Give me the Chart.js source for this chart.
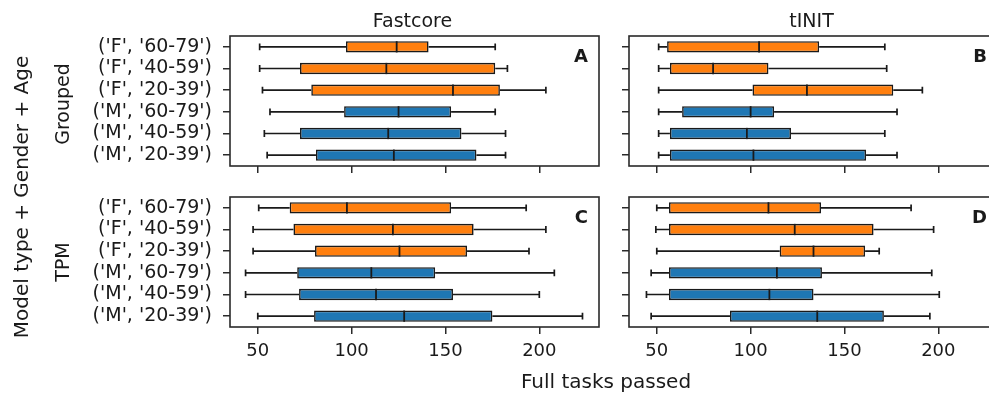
<!DOCTYPE html>
<html>
<head>
<meta charset="utf-8">
<script src="https://cdn.jsdelivr.net/npm/chart.js@4.4.1/dist/chart.umd.min.js"></script>
<style>
  html, body { margin: 0; padding: 0; background: #fff; overflow: hidden; }
  #wrap { position: relative; width: 989px; height: 397px; overflow: hidden; background: #fff; }
  #wrap canvas { position: absolute; left: 0; top: 0; }
</style>
</head>
<body>
<div id="wrap">
  <canvas id="chartA" width="1010" height="397"></canvas>
  <canvas id="chartB" width="1010" height="397"></canvas>
  <canvas id="chartC" width="1010" height="397"></canvas>
  <canvas id="chartD" width="1010" height="397"></canvas>
</div>
<script>
const groups = ["('F', '60-79')", "('F', '40-59')", "('F', '20-39')", "('M', '60-79')", "('M', '40-59')", "('M', '20-39')"];
const groupColors = ['#ff7f0e', '#ff7f0e', '#ff7f0e', '#1f77b4', '#1f77b4', '#1f77b4'];
const xTicks = [50, 100, 150, 200];

// each row: [whisker low, Q1, median, Q3, whisker high]
const fastcoreGrouped = [
    [51, 97, 124, 141, 176.5],
    [51, 72.5, 118.5, 176.5, 183],
    [52.5, 78.5, 154, 179, 203.5],
    [56.5, 96, 125, 153, 176.5],
    [53.5, 72.5, 119.5, 158.5, 182],
    [55, 81, 122.5, 166.5, 182]
];
const tinitGrouped = [
    [51, 55.5, 104.5, 136.5, 171.5],
    [51, 57, 80, 109.5, 172.5],
    [51, 101, 130, 176, 191.5],
    [51, 63.5, 100, 112.5, 178],
    [51, 57, 98, 121.5, 171.5],
    [51, 57, 101.5, 161.5, 178]
];
const fastcoreTpm = [
    [50.5, 67, 97.5, 153, 193],
    [47.5, 69, 122, 165, 203.5],
    [47.5, 80.5, 125.5, 161.5, 194.5],
    [43.5, 71, 110.5, 144.5, 208],
    [43.5, 72, 113, 154, 200],
    [50, 80, 128, 175, 223]
];
const tinitTpm = [
    [50, 56.5, 109.5, 137.5, 185.5],
    [49.5, 56.5, 123.5, 165.5, 197.5],
    [50, 115.5, 133.5, 161, 168.5],
    [47, 56.5, 114, 138, 196.5],
    [44.5, 56.5, 110, 133.5, 200.5],
    [47, 89, 135.5, 171, 195.5]
];

const FONT = "'DejaVu Sans', sans-serif";
const INK = '#1a1a1a';

// whiskers, caps, medians, frame and panel texts
const boxPlot = {
    id: 'boxPlot',
    afterDatasetsDraw(chart, args, opts) {
        const { ctx, scales: { x, y } } = chart;
        const meta = chart.getDatasetMeta(0);
        ctx.save();
        ctx.strokeStyle = INK;
        opts.stats.forEach((s, i) => {
            const bar = meta.data[i];
            const yc = y.getPixelForValue(i);
            const half = bar.height / 2;
            const cap = half * 0.6;
            const [lo, q1, med, q3, hi] = s.map(v => x.getPixelForValue(v));
            ctx.lineWidth = 1.7;
            ctx.beginPath();
            ctx.moveTo(lo, yc); ctx.lineTo(q1, yc);
            ctx.moveTo(q3, yc); ctx.lineTo(hi, yc);
            ctx.moveTo(lo, yc - cap); ctx.lineTo(lo, yc + cap);
            ctx.moveTo(hi, yc - cap); ctx.lineTo(hi, yc + cap);
            ctx.stroke();
            ctx.lineWidth = 1.8;
            ctx.beginPath();
            ctx.moveTo(med, yc - half); ctx.lineTo(med, yc + half);
            ctx.stroke();
        });
        ctx.restore();
    },
    afterDraw(chart, args, opts) {
        const { ctx, chartArea: a } = chart;
        ctx.save();
        ctx.strokeStyle = '#2a2a2a';
        ctx.lineWidth = 1.6;
        ctx.strokeRect(a.left, a.top, a.right - a.left, a.bottom - a.top);

        ctx.fillStyle = INK;
        if (opts.title) {
            ctx.font = '19px ' + FONT;
            ctx.textAlign = 'center';
            ctx.textBaseline = 'alphabetic';
            ctx.fillText(opts.title, (a.left + a.right) / 2 - 2, 27);
        }
        if (opts.letter) {
            ctx.font = 'bold 18px ' + FONT;
            ctx.textAlign = 'right';
            ctx.textBaseline = 'alphabetic';
            ctx.fillText(opts.letter, a.right - 11, a.top + 26);
        }
        const rotated = (text, px, py, size) => {
            ctx.save();
            ctx.translate(px, py);
            ctx.rotate(-Math.PI / 2);
            ctx.font = size + 'px ' + FONT;
            ctx.textAlign = 'center';
            ctx.textBaseline = 'middle';
            ctx.fillText(text, 0, 0);
            ctx.restore();
        };
        if (opts.rowLabel) rotated(opts.rowLabel, 64, opts.rowLabelY, 19);
        if (opts.supY) rotated(opts.supY, 23, 197, 20);
        if (opts.supX) {
            ctx.font = '20px ' + FONT;
            ctx.textAlign = 'center';
            ctx.textBaseline = 'middle';
            ctx.fillText(opts.supX, 606, 383);
        }
        ctx.restore();
    }
};

function makePanel(id, stats, area, showY, showX, texts) {
    const W = 1010, H = 397, xH = 30;
    new Chart(document.getElementById(id), {
        type: 'bar',
        data: {
            labels: groups,
            datasets: [{
                data: stats.map(s => [s[1], s[3]]),
                backgroundColor: groupColors,
                borderColor: INK,
                borderWidth: 1.6,
                borderSkipped: false,
                categoryPercentage: 1.0,
                barPercentage: 0.52
            }]
        },
        options: {
            indexAxis: 'y',
            responsive: false,
            animation: false,
            events: [],
            layout: {
                padding: { left: 0, top: area.top, right: W - area.right, bottom: H - area.bottom - xH }
            },
            scales: {
                x: {
                    type: 'linear',
                    min: 35.2,
                    max: 231.8,
                    afterBuildTicks: (s) => { s.ticks = xTicks.map(v => ({ value: v })); },
                    afterFit: (s) => { s.height = xH; },
                    grid: { drawOnChartArea: false, tickLength: 7, color: '#2a2a2a', lineWidth: 1.5 },
                    border: { display: false },
                    ticks: {
                        padding: 7,
                        color: INK,
                        font: { family: FONT, size: 18 },
                        maxRotation: 0,
                        callback: (v) => showX ? String(v) : ''
                    }
                },
                y: {
                    afterFit: (s) => { s.width = area.left; },
                    grid: { drawOnChartArea: false, offset: false, tickLength: 7, color: '#2a2a2a', lineWidth: 1.5 },
                    border: { display: false },
                    ticks: {
                        padding: 11,
                        autoSkip: false,
                        color: INK,
                        font: { family: FONT, size: 19 },
                        callback: function (v) { return showY ? this.getLabelForValue(v) : ''; }
                    }
                }
            },
            plugins: {
                legend: { display: false },
                tooltip: { enabled: false },
                boxPlot: Object.assign({ stats: stats }, texts)
            }
        },
        plugins: [boxPlot]
    });
}

makePanel('chartA', fastcoreGrouped, { left: 230, right: 599, top: 36, bottom: 166 }, true, false,
    { title: 'Fastcore', letter: 'A', rowLabel: 'Grouped', rowLabelY: 104 });
makePanel('chartB', tinitGrouped, { left: 629, right: 998, top: 36, bottom: 166 }, false, false,
    { title: 'tINIT', letter: 'B' });
makePanel('chartC', fastcoreTpm, { left: 230, right: 599, top: 197, bottom: 327 }, true, true,
    { letter: 'C', rowLabel: 'TPM', rowLabelY: 262, supY: 'Model type + Gender + Age', supX: 'Full tasks passed' });
makePanel('chartD', tinitTpm, { left: 629, right: 998, top: 197, bottom: 327 }, false, true,
    { letter: 'D' });
</script>
</body>
</html>
